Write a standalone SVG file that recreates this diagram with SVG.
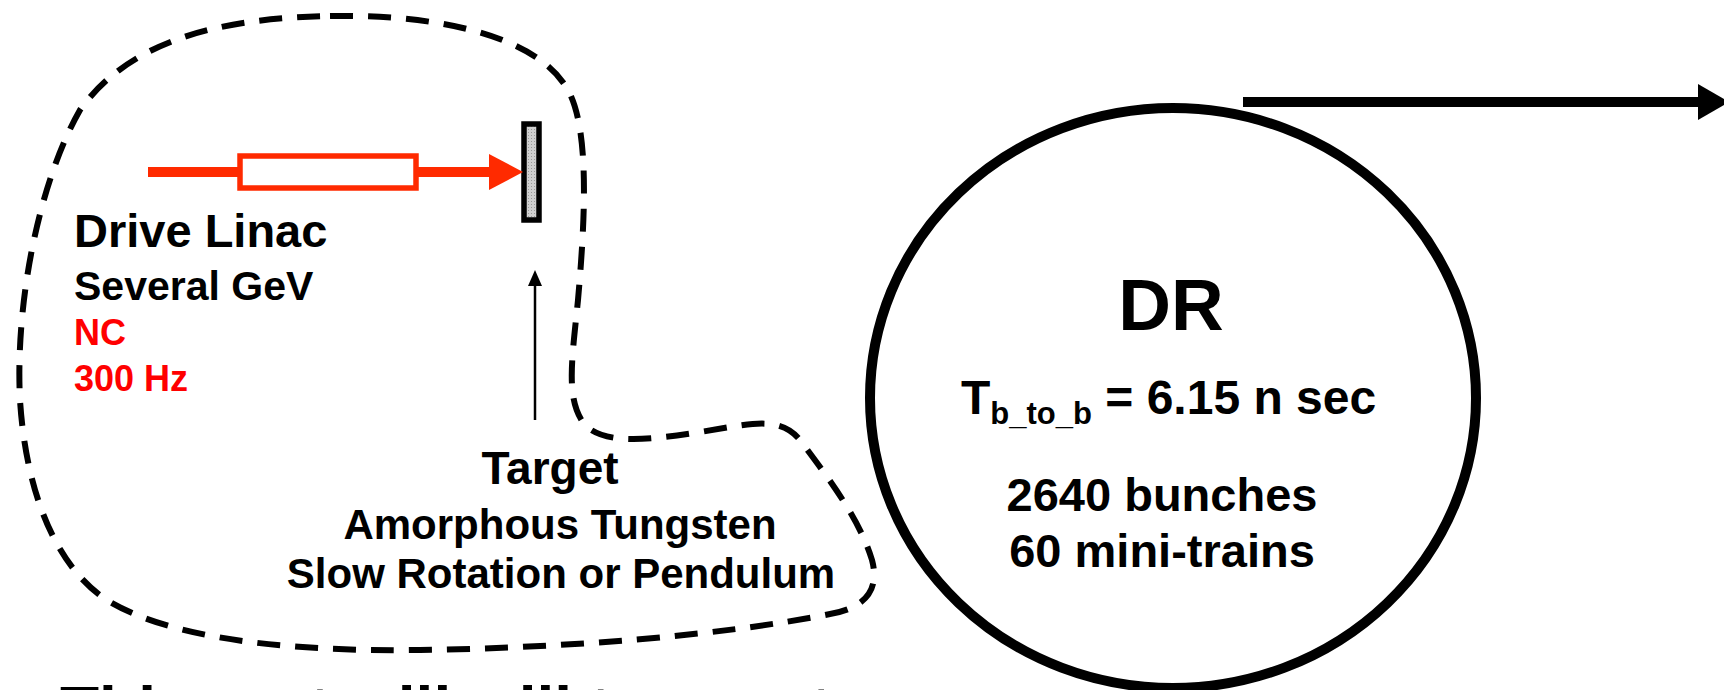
<svg xmlns="http://www.w3.org/2000/svg" width="1724" height="690" viewBox="0 0 1724 690">
<defs>
<style>
text{font-family:"Liberation Sans",Arial,Helvetica,sans-serif;font-weight:bold;fill:#000}
.red{fill:#ff0000}
.beam{stroke:#ff2a00;stroke-width:10;fill:none}
.dash{fill:none;stroke:#000;stroke-width:6;stroke-dasharray:23 15}
</style>
<marker id="redHead" markerUnits="userSpaceOnUse" markerWidth="36" markerHeight="38" refX="0" refY="18" orient="auto" overflow="visible"><path d="M0,0 L34,18 L0,36 Z" fill="#ff2a00"/></marker>
<marker id="thinHead" markerUnits="userSpaceOnUse" markerWidth="18" markerHeight="16" refX="0" refY="7" orient="auto" overflow="visible"><path d="M0,0 L16,7 L0,14 Z" fill="#000"/></marker>
<marker id="bigHead" markerUnits="userSpaceOnUse" markerWidth="34" markerHeight="38" refX="0" refY="18" orient="auto" overflow="visible"><path d="M0,0 L31,18 L0,36 Z" fill="#000"/></marker>
<pattern id="stip" width="3" height="3" patternUnits="userSpaceOnUse"><rect width="3" height="3" fill="#d0d0d0"/><rect width="1" height="1" fill="#9a9a9a"/></pattern>
</defs>
<rect width="1724" height="690" fill="#fff"/>

<g id="source-boundary">
<path class="dash" d="M330 16 C450 14,540 40,568 90 C590 130,585 220,578 300 C572 360,565 400,585 425 C605 445,650 440,700 432 C750 424,780 415,800 440 C830 480,860 520,872 560 C880 590,865 608,830 614 C720 636,560 648,420 650 C280 652,170 637,110 602 C50 565,25 480,20 400 C15 300,40 180,80 110 C130 40,220 18,330 16 Z"/>
</g>

<g id="drive-linac">
<rect x="240" y="156" width="176" height="32" fill="#fff" stroke="#ff2a00" stroke-width="5.5"/>
<text x="74" y="247" font-size="47">Drive Linac</text>
<text x="74" y="300" font-size="41">Several GeV</text>
<text class="red" x="74" y="345" font-size="36">NC</text>
<text class="red" x="74" y="391" font-size="36">300 Hz</text>
</g>

<g id="target">
<rect x="524" y="124" width="15" height="96" fill="url(#stip)" stroke="#000" stroke-width="5.5"/>
<text x="550" y="484" font-size="46" text-anchor="middle">Target</text>
<text x="560" y="539" font-size="42" text-anchor="middle">Amorphous Tungsten</text>
<text x="561" y="588" font-size="42" text-anchor="middle">Slow Rotation or Pendulum</text>
</g>

<g id="damping-ring">
<ellipse cx="1173" cy="398" rx="303" ry="290" fill="none" stroke="#000" stroke-width="10"/>
<text x="1171" y="330" font-size="73" text-anchor="middle">DR</text>
<text x="961" y="414" font-size="48">T<tspan font-size="31" dy="10">b_to_b</tspan><tspan dy="-10"> = 6.15 n sec</tspan></text>
<text x="1162" y="511" font-size="47" text-anchor="middle">2640 bunches</text>
<text x="1162" y="567" font-size="47" text-anchor="middle">60 mini-trains</text>
</g>

<g id="connectors">
<line class="beam" x1="148" y1="172" x2="240" y2="172"/>
<line class="beam" x1="416" y1="172" x2="489" y2="172" marker-end="url(#redHead)"/>
<line x1="535" y1="420" x2="535" y2="286" stroke="#000" stroke-width="2.5" marker-end="url(#thinHead)"/>
<line x1="1243" y1="102" x2="1698" y2="102" stroke="#000" stroke-width="10" marker-end="url(#bigHead)"/>
</g>

<text x="60" y="732" font-size="64">This part will will turn out</text>
</svg>
